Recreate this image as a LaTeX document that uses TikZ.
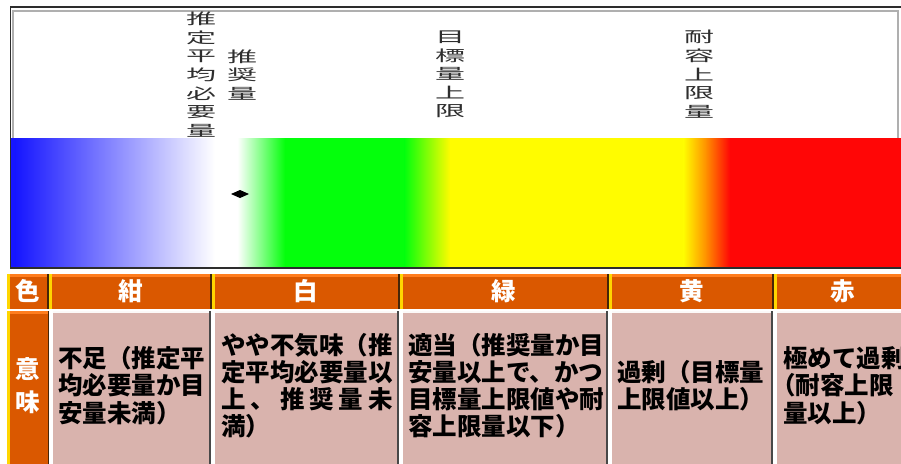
\documentclass[tikz,border=0pt]{standalone}
\usepackage{fontspec}
\newfontfamily\jp{Noto Sans CJK JP}
\definecolor{blueA}{RGB}{22,22,255}
\definecolor{grnA}{RGB}{4,255,12}
\definecolor{yelA}{RGB}{255,252,0}
\definecolor{orgA}{RGB}{255,140,0}
\definecolor{redA}{RGB}{255,6,6}
\definecolor{frameD}{RGB}{45,45,45}
\definecolor{frameL}{RGB}{175,175,175}
\definecolor{hdr}{RGB}{218,88,0}
\definecolor{hdrhi}{RGB}{255,125,30}
\definecolor{hyel}{RGB}{255,214,0}
\definecolor{hdark}{RGB}{70,38,8}
\definecolor{pinkA}{RGB}{217,179,173}
\definecolor{cdark}{RGB}{72,72,72}
\begin{document}
\begin{tikzpicture}[x=1pt,y=-1pt,
  lbl/.style={inner sep=0pt, text=black!82, font=\jp\fontsize{15}{15}\selectfont},
  bodytxt/.style={inner sep=0pt, anchor=base west, text=black, font=\jp\bfseries\fontsize{24.5}{24.5}\selectfont},
  hdrtxt/.style={inner sep=0pt, text=white, font=\jp\bfseries\fontsize{24.5}{24.5}\selectfont}]
\useasboundingbox (0,0) rectangle (901,463);
\clip (0,0) rectangle (901,463);
\fill[white] (0,0) rectangle (901,463);
% ---- colour bar
\fill[blueA] (11,138) rectangle (16,267);
\shade[left color=blueA,right color=white] (15.5,138) rectangle (215,267);
\fill[white] (214.5,138) rectangle (238,267);
\shade[left color=white,right color=grnA] (237.5,138) rectangle (285,267);
\fill[grnA] (284.5,138) rectangle (405,267);
\shade[left color=grnA,right color=yelA] (404.5,138) rectangle (450,267);
\fill[yelA] (449.5,138) rectangle (684,267);
\shade[left color=yelA,right color=orgA] (683.5,138) rectangle (707,267);
\shade[left color=orgA,right color=redA] (706.5,138) rectangle (730,267);
\fill[redA] (729.5,138) rectangle (905,267);
% ---- frame
\draw[frameL,line width=1.5pt] (13,138) -- (13,11) -- (898,11) -- (898,138);
\draw[frameD,line width=1.6pt] (905,7) -- (10.5,7) -- (10.5,268) -- (905,268);
% ---- marker
\fill[black] (231,194) -- (240,190) -- (249,194) -- (240,198) -- cycle;
% ---- vertical labels
\foreach \c [count=\i] in {推,定,平,均,必,要,量}
  \node[lbl] (la\i) at (201,{19+18.7*(\i-1)}) {\scalebox{2}[1]{\c}};
\foreach \c [count=\i] in {推,奨,量}
  \node[lbl] (lb\i) at (242,{56.4+18.7*(\i-1)}) {\scalebox{2}[1]{\c}};
\foreach \c [count=\i] in {目,標,量,上,限}
  \node[lbl] (lc\i) at (450,{37+18.5*(\i-1)}) {\scalebox{2}[1]{\c}};
\foreach \c [count=\i] in {耐,容,上,限,量}
  \node[lbl] (ld\i) at (699,{37+18.8*(\i-1)}) {\scalebox{2}[1]{\c}};
% ---- header row
\foreach \xa/\xb in {7/49,49/212,212/400,400/609,609/774,774/912}{
  \fill[hdr] (\xa,274) rectangle (\xb,309);
  \fill[hdrhi] (\xa,274) rectangle (\xb,276.5);
  \fill[hyel] (\xa,274) rectangle (\xa+2.5,309);
  \fill[hdark] (\xb-2,274) rectangle (\xb,309);
}
\node[hdrtxt] (h0) at (28,291) {色};
\node[hdrtxt] (h1) at (131,291) {紺};
\node[hdrtxt] (h2) at (306,291) {白};
\node[hdrtxt] (h3) at (504,291) {緑};
\node[hdrtxt] (h4) at (692,291) {黄};
\node[hdrtxt] (h5) at (843,291) {赤};
% ---- body row
\fill[hdr] (7,311) rectangle (49,470);
\fill[hdrhi] (7,311) rectangle (49,313.5);
\fill[hyel] (7,311) rectangle (9.5,470);
\fill[hdark] (47.5,311) rectangle (49,470);
\foreach \xa/\xb in {50/211,212/399,400/608,609/773,774/912}{
  \fill[pinkA] (\xa,311) rectangle (\xb,470);
  \fill[white!92!pinkA] (\xa,311) rectangle (\xb,312.5);
  \fill[white] (\xa,311) rectangle (\xa+2.5,470);
  \fill[cdark] (\xb-2,311) rectangle (\xb,470);
}
\node[hdrtxt] (m1) at (28,369) {意};
\node[hdrtxt] (m2) at (28,402) {味};
% column 1
\node[bodytxt] (a1) at (58,367) {不足（推定平};
\node[bodytxt] (a2) at (58,394.5) {均必要量か目};
\node[bodytxt] (a3) at (58,422) {安量未満）};
% column 2
\node[bodytxt] (b1) at (221,354) {やや不気味（推};
\node[bodytxt] (b2) at (221,381) {定平均必要量以};
\node[bodytxt] (b3) at (221,408) {\makebox[171.5pt][s]{上\hfill 、\hfill 推\hfill 奨\hfill 量\hfill 未}};
\node[bodytxt] (b4) at (221,435) {満）};
% column 3
\node[bodytxt] (c1) at (408,354) {適当（推奨量か目};
\node[bodytxt] (c2) at (408,381) {安量以上で、かつ};
\node[bodytxt] (c3) at (408,408) {目標量上限値や耐};
\node[bodytxt] (c4) at (408,435) {容上限量以下）};
% column 4
\node[bodytxt] (d1) at (617,381) {過剰（目標量};
\node[bodytxt] (d2) at (617,408) {上限値以上）};
% column 5
\node[bodytxt] (e1) at (783,367) {極めて過剰};
\node[bodytxt] (e2) at (783,394.5) {\kern-12pt（耐容上限};
\node[bodytxt] (e3) at (783,422) {量以上）};
\end{tikzpicture}
\end{document}
